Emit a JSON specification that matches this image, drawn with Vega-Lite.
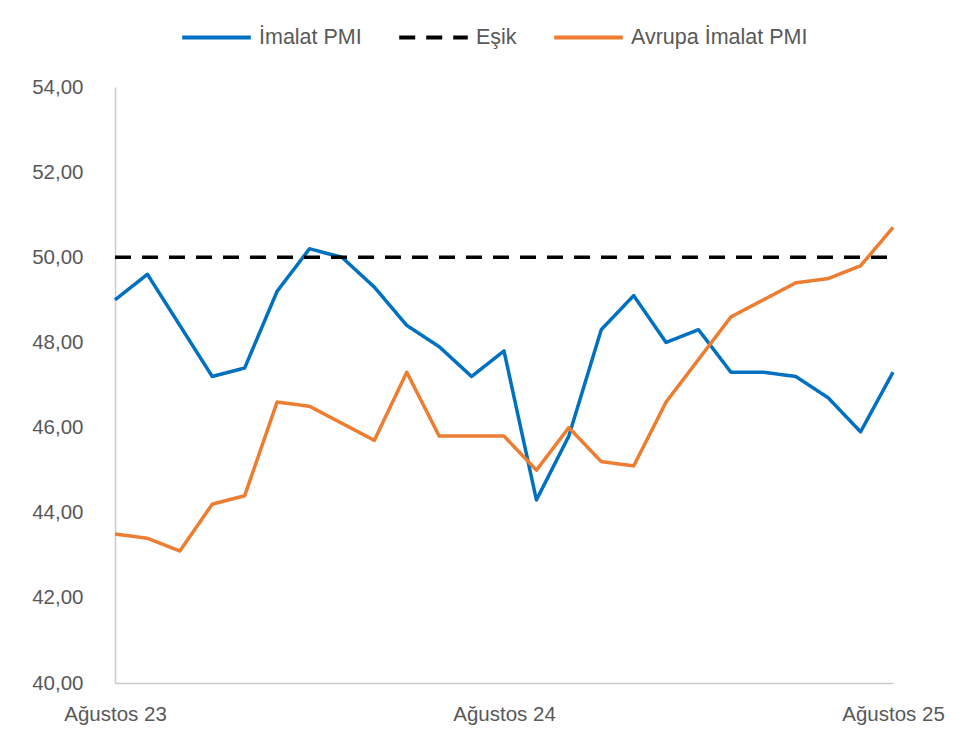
{
  "$schema": "https://vega.github.io/schema/vega-lite/v6.json",
  "autosize": {"type": "none"},
  "width": 778,
  "height": 596,
  "padding": {"left": 115, "top": 87, "right": 72, "bottom": 60},
  "background": "white",
  "config": {
    "view": {"stroke": null},
    "font": "Liberation Sans",
    "axis": {"labelFont": "Liberation Sans", "labelColor": "#595959", "labelFontSize": 20.5, "ticks": false, "tickSize": 0, "grid": false, "domainColor": "#CCCCCC", "domainWidth": 1.5, "title": null},
    "legend": {"orient": "none", "legendX": 65, "legendY": -86, "direction": "horizontal", "symbolType": "stroke", "symbolSize": 4700, "symbolStrokeWidth": 4, "labelFont": "Liberation Sans", "labelFontSize": 21.5, "labelColor": "#595959", "labelOffset": 6, "columnPadding": 29, "title": null, "labelLimit": 400}
  },
  "data": {
    "values": [
      {"ay": "2023-08", "seri": "İmalat PMI", "deger": 49.0},
      {"ay": "2023-09", "seri": "İmalat PMI", "deger": 49.6},
      {"ay": "2023-10", "seri": "İmalat PMI", "deger": 48.4},
      {"ay": "2023-11", "seri": "İmalat PMI", "deger": 47.2},
      {"ay": "2023-12", "seri": "İmalat PMI", "deger": 47.4},
      {"ay": "2024-01", "seri": "İmalat PMI", "deger": 49.2},
      {"ay": "2024-02", "seri": "İmalat PMI", "deger": 50.2},
      {"ay": "2024-03", "seri": "İmalat PMI", "deger": 50.0},
      {"ay": "2024-04", "seri": "İmalat PMI", "deger": 49.3},
      {"ay": "2024-05", "seri": "İmalat PMI", "deger": 48.4},
      {"ay": "2024-06", "seri": "İmalat PMI", "deger": 47.9},
      {"ay": "2024-07", "seri": "İmalat PMI", "deger": 47.2},
      {"ay": "2024-08", "seri": "İmalat PMI", "deger": 47.8},
      {"ay": "2024-09", "seri": "İmalat PMI", "deger": 44.3},
      {"ay": "2024-10", "seri": "İmalat PMI", "deger": 45.8},
      {"ay": "2024-11", "seri": "İmalat PMI", "deger": 48.3},
      {"ay": "2024-12", "seri": "İmalat PMI", "deger": 49.1},
      {"ay": "2025-01", "seri": "İmalat PMI", "deger": 48.0},
      {"ay": "2025-02", "seri": "İmalat PMI", "deger": 48.3},
      {"ay": "2025-03", "seri": "İmalat PMI", "deger": 47.3},
      {"ay": "2025-04", "seri": "İmalat PMI", "deger": 47.3},
      {"ay": "2025-05", "seri": "İmalat PMI", "deger": 47.2},
      {"ay": "2025-06", "seri": "İmalat PMI", "deger": 46.7},
      {"ay": "2025-07", "seri": "İmalat PMI", "deger": 45.9},
      {"ay": "2025-08", "seri": "İmalat PMI", "deger": 47.3},
      {"ay": "2023-08", "seri": "Eşik", "deger": 50},
      {"ay": "2023-09", "seri": "Eşik", "deger": 50},
      {"ay": "2023-10", "seri": "Eşik", "deger": 50},
      {"ay": "2023-11", "seri": "Eşik", "deger": 50},
      {"ay": "2023-12", "seri": "Eşik", "deger": 50},
      {"ay": "2024-01", "seri": "Eşik", "deger": 50},
      {"ay": "2024-02", "seri": "Eşik", "deger": 50},
      {"ay": "2024-03", "seri": "Eşik", "deger": 50},
      {"ay": "2024-04", "seri": "Eşik", "deger": 50},
      {"ay": "2024-05", "seri": "Eşik", "deger": 50},
      {"ay": "2024-06", "seri": "Eşik", "deger": 50},
      {"ay": "2024-07", "seri": "Eşik", "deger": 50},
      {"ay": "2024-08", "seri": "Eşik", "deger": 50},
      {"ay": "2024-09", "seri": "Eşik", "deger": 50},
      {"ay": "2024-10", "seri": "Eşik", "deger": 50},
      {"ay": "2024-11", "seri": "Eşik", "deger": 50},
      {"ay": "2024-12", "seri": "Eşik", "deger": 50},
      {"ay": "2025-01", "seri": "Eşik", "deger": 50},
      {"ay": "2025-02", "seri": "Eşik", "deger": 50},
      {"ay": "2025-03", "seri": "Eşik", "deger": 50},
      {"ay": "2025-04", "seri": "Eşik", "deger": 50},
      {"ay": "2025-05", "seri": "Eşik", "deger": 50},
      {"ay": "2025-06", "seri": "Eşik", "deger": 50},
      {"ay": "2025-07", "seri": "Eşik", "deger": 50},
      {"ay": "2025-08", "seri": "Eşik", "deger": 50},
      {"ay": "2023-08", "seri": "Avrupa İmalat PMI", "deger": 43.5},
      {"ay": "2023-09", "seri": "Avrupa İmalat PMI", "deger": 43.4},
      {"ay": "2023-10", "seri": "Avrupa İmalat PMI", "deger": 43.1},
      {"ay": "2023-11", "seri": "Avrupa İmalat PMI", "deger": 44.2},
      {"ay": "2023-12", "seri": "Avrupa İmalat PMI", "deger": 44.4},
      {"ay": "2024-01", "seri": "Avrupa İmalat PMI", "deger": 46.6},
      {"ay": "2024-02", "seri": "Avrupa İmalat PMI", "deger": 46.5},
      {"ay": "2024-03", "seri": "Avrupa İmalat PMI", "deger": 46.1},
      {"ay": "2024-04", "seri": "Avrupa İmalat PMI", "deger": 45.7},
      {"ay": "2024-05", "seri": "Avrupa İmalat PMI", "deger": 47.3},
      {"ay": "2024-06", "seri": "Avrupa İmalat PMI", "deger": 45.8},
      {"ay": "2024-07", "seri": "Avrupa İmalat PMI", "deger": 45.8},
      {"ay": "2024-08", "seri": "Avrupa İmalat PMI", "deger": 45.8},
      {"ay": "2024-09", "seri": "Avrupa İmalat PMI", "deger": 45.0},
      {"ay": "2024-10", "seri": "Avrupa İmalat PMI", "deger": 46.0},
      {"ay": "2024-11", "seri": "Avrupa İmalat PMI", "deger": 45.2},
      {"ay": "2024-12", "seri": "Avrupa İmalat PMI", "deger": 45.1},
      {"ay": "2025-01", "seri": "Avrupa İmalat PMI", "deger": 46.6},
      {"ay": "2025-02", "seri": "Avrupa İmalat PMI", "deger": 47.6},
      {"ay": "2025-03", "seri": "Avrupa İmalat PMI", "deger": 48.6},
      {"ay": "2025-04", "seri": "Avrupa İmalat PMI", "deger": 49.0},
      {"ay": "2025-05", "seri": "Avrupa İmalat PMI", "deger": 49.4},
      {"ay": "2025-06", "seri": "Avrupa İmalat PMI", "deger": 49.5},
      {"ay": "2025-07", "seri": "Avrupa İmalat PMI", "deger": 49.8},
      {"ay": "2025-08", "seri": "Avrupa İmalat PMI", "deger": 50.7}
    ]
  },
  "mark": {"type": "line", "strokeWidth": 3.5, "strokeCap": "butt", "strokeJoin": "round"},
  "encoding": {
    "x": {
      "field": "ay", "type": "ordinal",
      "scale": {"type": "point", "padding": 0},
      "axis": {"values": ["2023-08", "2024-08", "2025-08"], "labelExpr": "'Ağustos ' + slice(datum.value, 2, 4)", "labelAngle": 0, "labelPadding": 21, "labelBaseline": "top"}
    },
    "y": {
      "field": "deger", "type": "quantitative",
      "scale": {"domain": [40, 54], "nice": false, "zero": false},
      "axis": {"values": [40, 42, 44, 46, 48, 50, 52, 54], "labelExpr": "replace(format(datum.value, '.2f'), '.', ',')", "labelPadding": 32}
    },
    "color": {
      "field": "seri", "type": "nominal",
      "scale": {"domain": ["İmalat PMI", "Eşik", "Avrupa İmalat PMI"], "range": ["#0070C0", "#000000", "#ED7D31"]},
      "legend": {"title": null}
    },
    "strokeDash": {
      "field": "seri", "type": "nominal",
      "scale": {"domain": ["İmalat PMI", "Eşik", "Avrupa İmalat PMI"], "range": [[1, 0], [16, 11], [1, 0]]},
      "legend": {"title": null}
    },
    "order": {"field": "seri"}
  }
}
